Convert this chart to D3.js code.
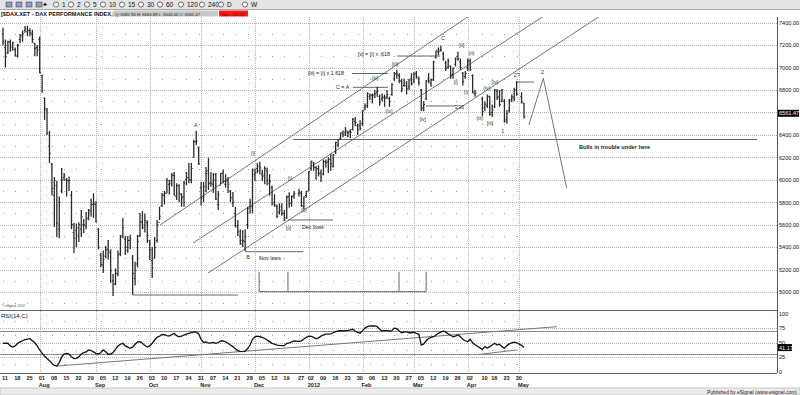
<!DOCTYPE html>
<html>
<head>
<meta charset="utf-8">
<script src="https://cdn.jsdelivr.net/npm/d3@7"></script>
<style>
  body { margin: 0; background: #fff; }
  svg text { font-family: "Liberation Sans", Arial, sans-serif; }
</style>
</head>
<body>
<div id="graf"></div>
<script>
// ---- Datos ----
const startDay = "2011-07-11";
const endDay = "2012-05-03";
const holidays = ["2011-12-26", "2012-04-06", "2012-04-09", "2012-05-01"];

// OHLC diario (jul 2011 - may 2012)
const opens = [
  7300,7180,7130,7230,7180,7160,7100,7250,7280,7330,7320,7330,7300,7220,7180,
  7250,6930,6730,6620,6300,6140,5860,5950,5560,5900,6020,6000,5990,5860,5530,5550,5500,5560,5600,5590,5660,5720,5780,
  5780,5560,5330,5240,5320,5380,5350,5100,5070,5160,5340,5500,5470,5400,5460,5300,5120,5250,5500,5620,5600,5620,
  5460,5280,5300,5460,5620,5770,5860,5880,5960,5990,6040,5850,5950,5870,5850,6000,6020,6000,6200,6340,6290,
  5930,5850,5900,6080,5970,5960,6050,5780,5950,6060,5960,5990,5900,5790,5700,5590,5500,5460,5450,5600,5760,5760,
  6050,6100,6120,6050,6040,6080,5970,5930,5800,5760,5710,5760,5700,5660,5850,5790,5860,5880,5880,5760,5860,
  5900,6100,6150,6110,6100,6060,6050,6160,6160,6180,6120,6250,6310,6370,6420,6420,6420,6430,6450,6520,6480,6480,
  6500,6640,6660,6740,6750,6760,6780,6740,6720,6730,6740,6720,6760,6900,6940,6930,6880,6840,6840,6830,6900,
  6890,6950,6900,6800,6640,6720,6900,6860,6890,7090,7140,7160,7120,7040,7000,7010,6940,7030,7100,7050,6950,6920,
  7000,7060,6930,6770,6720,6640,6660,6740,6600,6650,6790,6740,6700,6700,6540,6620,6720,6730,6800,
  6740,6683
];
const highs = [
  7355,7250,7240,7250,7230,7180,7210,7300,7330,7370,7373,7350,7337,7220,7200,
  7277,6936,6730,6640,6436,6150,6025,5990,5850,6106,6060,6017,6030,5900,5615,5610,5620,5731,5650,5714,5740,5830,5880,
  5810,5570,5350,5370,5410,5464,5380,5160,5210,5370,5510,5660,5500,5500,5510,5330,5270,5508,5705,5720,5700,5640,
  5464,5400,5490,5642,5760,5883,5900,6017,6000,6060,6070,5970,5960,5880,5990,6070,6150,6150,6356,6436,6293,
  5981,5981,6115,6195,6070,6060,6060,5900,6060,6090,6050,6025,5910,5892,5758,5642,5560,5550,5560,5758,5830,6100,
  6100,6150,6160,6090,6120,6110,6050,5950,5870,5780,5790,5790,5730,5860,5890,5860,5900,5920,5900,5850,5900,
  6080,6170,6160,6120,6130,6090,6180,6180,6200,6230,6230,6340,6360,6420,6440,6470,6440,6450,6550,6560,6500,6530,
  6620,6680,6780,6770,6770,6800,6830,6760,6770,6760,6800,6740,6860,6960,6980,6950,6900,6900,6880,6900,6950,
  6960,6970,6920,6810,6700,6890,6950,6900,7060,7150,7180,7194,7140,7060,7080,7020,7000,7090,7140,7080,6960,6970,
  7080,7080,6940,6800,6740,6700,6760,6750,6670,6810,6810,6800,6810,6720,6620,6720,6760,6820,6880,
  6780,6685
];
const lows = [
  7200,7000,7120,7140,7150,7100,7090,7220,7230,7310,7280,7280,7220,7100,7100,
  6950,6775,6534,6400,6150,5860,5580,5490,5480,5880,5990,5850,5900,5560,5348,5400,5446,5490,5526,5560,5640,5670,5660,
  5620,5380,5220,5170,5300,5290,5080,4964,5060,5140,5320,5480,5330,5350,5380,4975,5060,5220,5490,5560,5530,5440,
  5285,5125,5300,5440,5640,5758,5780,5880,5870,5940,5860,5820,5800,5760,5760,5950,5970,5970,6200,6311,6133,
  5770,5800,5890,5910,5937,5883,5821,5730,5960,5970,5930,5883,5800,5758,5580,5500,5420,5400,5366,5560,5700,5700,
  5990,6060,6050,5990,5960,5950,5860,5770,5760,5660,5690,5680,5630,5650,5750,5760,5830,5850,5760,5740,5840,
  5900,6080,6080,6000,6030,5980,6040,6110,6060,6080,6110,6230,6290,6360,6380,6390,6380,6370,6440,6480,6400,6440,
  6480,6620,6640,6710,6680,6730,6740,6660,6700,6650,6720,6650,6750,6880,6900,6860,6780,6830,6760,6800,6840,
  6860,6900,6840,6610,6610,6710,6860,6830,6880,7080,7110,7140,7060,6970,6990,6900,6900,7010,7060,6980,6840,6900,
  6970,6970,6770,6740,6570,6610,6640,6570,6560,6640,6710,6650,6690,6510,6500,6600,6690,6700,6750,
  6680,6546
];
const closes = [
  7230,7097,7227,7198,7220,7110,7200,7290,7300,7344,7330,7310,7250,7170,7158,
  6954,6797,6637,6414,6236,5923,5994,5613,5798,5997,6035,5994,5995,5602,5481,5572,5600,5670,5600,5650,5728,5780,5784,
  5627,5400,5246,5289,5376,5364,5190,5072,5166,5331,5490,5573,5371,5459,5474,5164,5196,5449,5628,5578,5639,5502,
  5376,5216,5395,5600,5675,5866,5880,5995,5965,6040,5859,5946,5880,5840,5970,6020,6000,6100,6340,6346,6141,
  5834,5939,6056,5966,5970,6000,5829,5868,6057,5985,5995,5960,5840,5800,5578,5537,5428,5457,5492,5746,5800,6088,
  6062,6080,6106,6028,6100,5995,5986,5785,5774,5675,5730,5701,5640,5847,5790,5850,5878,5889,5771,5848,5898,
  6075,6166,6111,6095,6057,6017,6163,6152,6179,6143,6220,6332,6354,6416,6404,6436,6419,6421,6539,6511,6444,6458,
  6616,6655,6766,6754,6748,6767,6787,6692,6738,6728,6760,6699,6849,6947,6943,6884,6810,6864,6810,6888,6856,
  6941,6921,6866,6633,6671,6880,6880,6895,7050,7154,7144,7158,7079,6996,7056,6930,6996,7078,7079,6999,6875,6947,
  7056,6983,6784,6775,6606,6674,6743,6583,6624,6801,6733,6671,6801,6523,6590,6704,6739,6801,6761,
  6694,6561.47
];
// RSI(14,C)
const rsi = [
  48.6,49,48.6,44,42,44,48.6,51,53,55,56,56.6,53,49.5,44,
  37,31,26.5,22,18.4,13.7,10,9,15,25,30,31,30,25,22,22.5,25,30,32.5,33.6,37,36,33.6,
  31,30,32.5,37,34,29.5,30,32.5,38,44,47,48.6,44,42,40,42,47,51,51.5,48.6,44.6,42,
  44,48.6,54.3,59,61,64,63.5,62,61,63.5,66,62,60,61,63,64.7,66,67,68,68,65,
  55.5,50,51,49,49.5,50,48.6,50,52.6,52.6,51,48.6,45.6,42.8,39,36,34.5,34,35,39.5,45.6,55.5,
  60,61,60,59,57,54.3,51.5,48.6,47,45.6,45,44.5,44.5,48.6,49.5,51,52.6,52,53,56,59,
  61,60.5,59,56.5,58,61,63,64.7,64.7,65,67,69,70,70.6,70,70.6,71,71.8,73,70,67.6,66,
  70.6,75,77.5,78.7,78.7,78.7,77.5,73,70,70.6,70.6,70,70.6,75,74,70,67,68,69,67,67,
  68,66,64.3,45.6,47.5,53,57,59,60,63,66,68,70,68,65,62.6,60,61,63.5,60,55.5,53,
  51.5,55.5,49.5,46,38,42.8,40.5,42.8,45.6,48.6,45.6,47,42.8,40,44.6,47.5,49.5,50.7,49.5,
  45,41.17
];

const priceTicks = [5000,5200,5400,5600,5800,6000,6200,6400,6600,6800,7000,7200,7400];
const priceMinor = [4900,5100,5300,5500,5700,5900,6100,6300,6500,6700,6900,7100,7300];
const rsiTicks = [0,25,50,75,100];
const rsiMinor = [12.5,37.5,62.5,87.5];
const weekStarts = ["2011-07-11","2011-07-18","2011-07-25","2011-08-01","2011-08-08","2011-08-15","2011-08-22","2011-08-29",
  "2011-09-05","2011-09-12","2011-09-19","2011-09-26","2011-10-03","2011-10-10","2011-10-17","2011-10-24","2011-10-31",
  "2011-11-07","2011-11-14","2011-11-21","2011-11-28","2011-12-05","2011-12-12","2011-12-19","2011-12-27",
  "2012-01-02","2012-01-09","2012-01-16","2012-01-23","2012-01-30","2012-02-06","2012-02-13","2012-02-20","2012-02-27",
  "2012-03-05","2012-03-12","2012-03-19","2012-03-26","2012-04-02","2012-04-10","2012-04-16","2012-04-23","2012-04-30"];
const monthStarts = ["2011-08-01","2011-09-01","2011-10-03","2011-11-01","2011-12-01","2012-01-02","2012-02-01","2012-03-01","2012-04-02","2012-05-01"];
const monthNames = ["Aug","Sep","Oct","Nov","Dec","2012","Feb","Mar","Apr","May"];

// Anotaciones (s = indice de dia habil, p = precio)
const waveLabels = [
  {s: 78.8, p: 6488, t: "A"}, {s: 100.2, p: 5312, t: "B"}, {s: 179.8, p: 7261, t: "C"},
  {s: 102.2, p: 6234, t: "[i]"}, {s: 116.7, p: 5566, t: "[ii]"}, {s: 117.3, p: 6016, t: "(i)"},
  {s: 123, p: 5731, t: "(ii)"}, {s: 152.1, p: 6904, t: "(iii)"}, {s: 157.9, p: 6613, t: "(iv)"},
  {s: 160.3, p: 7029, t: "[iii]"}, {s: 171.6, p: 6539, t: "[iv]"}, {s: 185.1, p: 6869, t: "[i]"},
  {s: 187.5, p: 7201, t: "[ii]"}, {s: 189.3, p: 6785, t: "(i)"}, {s: 191.6, p: 7127, t: "(ii)"},
  {s: 195, p: 6551, t: "(iii)"}, {s: 197.8, p: 6818, t: "(iv)"}, {s: 199.1, p: 6506, t: "[iii]"},
  {s: 201.1, p: 6874, t: "[iv]"}, {s: 204.3, p: 6429, t: "1"}, {s: 210, p: 6934, t: "2?"},
  {s: 220.5, p: 6963, t: "2"}
];
const noteLabels = [
  {s: 104.7, p: 5303, t: "Nov lows"}, {s: 122.2, p: 5579, t: "Dec lows"},
  {s: 124.7, p: 6952, t: "[iii] = [i] x 1.618"}, {s: 136.1, p: 6827, t: "C = A"},
  {s: 145.1, p: 7117, t: "[v] = [i] x .618"}, {s: 184.8, p: 6649, t: "236"}
];
const levelLines = [
  [[53.1, 4973], [96.1, 4973]], [[98.9, 5359], [122.7, 5359]], [[116.5, 5642], [134.9, 5642]],
  [[142.7, 6947], [157.4, 6947]], [[143.1, 6824], [157.4, 6824]], [[161.1, 7103], [178.7, 7103]],
  [[172.9, 6658], [185.2, 6658]], [[209.7, 6871], [217.1, 6871]], [[118.6, 6359], [308.3, 6359]],
  [[104.7, 5003], [173, 5003]],
  [[104.7, 5181], [104.7, 5003]], [[116.5, 5181], [116.5, 5003]], [[161.9, 5181], [161.9, 5003]], [[173, 5181], [173, 5003]]
];
const channels = [
  [[64.2, 5597], [190.5, 7460]],
  [[77.7, 5437], [221.2, 7460]],
  [[83.8, 5169], [244.1, 7460]]
];
const projection = [[215, 6488], [220.9, 6904], [230.5, 5924]];
const rsiLines = [[[22, 9], [226.4, 77.5]], [[194.3, 29.1], [209.9, 36.9]]];

// ---- Dimensiones ----
const W = 800, H = 395;
const right = 777;
const mainTop = 17, mainBottom = 310, rsiBottom = 373;

const svg = d3.select("#graf").append("svg")
  .attr("width", W).attr("height", H)
  .style("display", "block");

// calendario de dias habiles
const parse = d3.timeParse("%Y-%m-%d");
const fmt = d3.timeFormat("%Y-%m-%d");
const weekdays = d3.timeDays(parse(startDay), d3.timeDay.offset(parse(endDay), 1))
  .filter(d => d.getDay() % 6 !== 0);
const slotOf = new Map(weekdays.map((d, i) => [fmt(d), i]));
const days = weekdays.filter(d => !holidays.includes(fmt(d)));

const data = days.map((d, i) => ({
  s: slotOf.get(fmt(d)), open: opens[i], high: highs[i], low: lows[i], close: closes[i], rsi: rsi[i]
}));

const x = d3.scaleLinear().domain([0, weekdays.length - 1]).range([3, 524]);
const y = d3.scaleLinear().domain([5000, 7400]).range([292, 22.7]);
const yR = d3.scaleLinear().domain([0, 100]).range([371.25, 313.75]);

// ---- barras de herramientas ----
svg.append("rect").attr("x", 0).attr("y", 0).attr("width", W).attr("height", 9).attr("fill", "#e4e4e4");
const tools = ["1","2","5","10","15","30","60","120","240","D","W"];
const toolX = [62,77,93,109,128,147,166,187,208,227,251];
tools.forEach((t, i) => {
  svg.append("circle").attr("cx", toolX[i] - 6).attr("cy", 4.5).attr("r", 2.6)
    .attr("fill", "#fff").attr("stroke", "#333").attr("stroke-width", 0.7);
  svg.append("text").attr("x", toolX[i]).attr("y", 7).attr("font-size", 6.5).attr("fill", "#111").text(t);
});
[6, 16, 26, 36].forEach(px => svg.append("rect").attr("x", px).attr("y", 2).attr("width", 6).attr("height", 5)
  .attr("fill", "#8aa0c0").attr("stroke", "#333").attr("stroke-width", 0.5));
svg.append("text").attr("x", 42).attr("y", 7).attr("font-size", 7).attr("fill", "#111").text("\u2726");

svg.append("line").attr("x1", 0).attr("x2", W).attr("y1", 9.5).attr("y2", 9.5).attr("stroke", "#aaa");
svg.append("text").attr("x", 1).attr("y", 15.5).attr("font-size", 5.6).attr("font-weight", "bold").attr("fill", "#111")
  .text("[$DAX.XET - DAX PERFORMANCE INDEX,D]");
svg.append("rect").attr("x", 113).attr("y", 10.5).attr("width", 105).attr("height", 6).attr("fill", "#c8c8c8");
svg.append("text").attr("x", 115).attr("y", 15.5).attr("font-size", 4.2).attr("fill", "#222")
  .text("O: 6682.96   H: 6684.89   L: 6546.00   C: 6561.47");
svg.append("rect").attr("x", 219).attr("y", 10.5).attr("width", 29).attr("height", 6).attr("fill", "#ff1a1a");
svg.append("text").attr("x", 222).attr("y", 15.5).attr("font-size", 4.2).attr("fill", "#600").text("Net: -132.57");

// ---- rejilla ----
const grid = svg.append("g");
grid.selectAll("line.h").data(priceTicks).join("line")
  .attr("x1", 0).attr("x2", right).attr("y1", d => Math.round(y(d)) + 0.5).attr("y2", d => Math.round(y(d)) + 0.5)
  .attr("stroke", "#b4b4b4").attr("stroke-dasharray", "1,1");
grid.selectAll("line.r").data([25, 50, 75]).join("line")
  .attr("x1", 0).attr("x2", right).attr("y1", d => Math.round(yR(d)) + 0.5).attr("y2", d => Math.round(yR(d)) + 0.5)
  .attr("stroke", "#b4b4b4").attr("stroke-dasharray", "1,1");
grid.selectAll("line.v").data(monthStarts).join("line")
  .attr("x1", d => Math.round(x(slotOf.get(d))) + 0.5).attr("x2", d => Math.round(x(slotOf.get(d))) + 0.5)
  .attr("y1", mainTop).attr("y2", rsiBottom)
  .attr("stroke", "#b4b4b4").attr("stroke-dasharray", "1,1");

// rejilla menor de puntos (semanas x niveles intermedios)
const dotRows = priceMinor.map(y).concat(rsiMinor.map(yR));
const dots = [];
weekStarts.filter(d => !monthStarts.includes(d)).forEach(d => dotRows.forEach(r => dots.push([x(slotOf.get(d)), r])));
grid.selectAll("rect.dot").data(dots).join("rect")
  .attr("x", d => Math.round(d[0])).attr("y", d => Math.round(d[1]))
  .attr("width", 1).attr("height", 1).attr("fill", "#9a9a9a");

// niveles RSI 70 / 30
svg.selectAll("line.lvl").data([70, 30]).join("line")
  .attr("x1", 0).attr("x2", right).attr("y1", d => Math.round(yR(d)) + 0.5).attr("y2", d => Math.round(yR(d)) + 0.5)
  .attr("stroke", "#8a8a8a").attr("stroke-width", 1);

// marcos
svg.append("line").attr("x1", right + 0.5).attr("x2", right + 0.5).attr("y1", mainTop).attr("y2", rsiBottom).attr("stroke", "#555");
[mainBottom, rsiBottom].forEach(v => svg.append("line").attr("x1", 0).attr("x2", right).attr("y1", v + 0.5).attr("y2", v + 0.5)
  .attr("stroke", "#666"));

// ---- panel principal ----
svg.append("clipPath").attr("id", "clipMain").append("rect")
  .attr("x", 0).attr("y", mainTop).attr("width", right).attr("height", mainBottom - mainTop);
const gMain = svg.append("g").attr("clip-path", "url(#clipMain)");

const lineGen = d3.line().x(d => x(d[0])).y(d => y(d[1]));

gMain.selectAll("path.chan").data(channels).join("path")
  .attr("d", lineGen).attr("fill", "none").attr("stroke", "#666").attr("stroke-width", 0.9);
gMain.selectAll("path.lvl").data(levelLines).join("path")
  .attr("d", lineGen).attr("fill", "none").attr("stroke", "#666").attr("stroke-width", 1);
gMain.append("path").datum(projection).attr("d", lineGen)
  .attr("fill", "none").attr("stroke", "#777").attr("stroke-width", 1);

const bar = gMain.selectAll("g.bar").data(data).join("g")
  .attr("transform", d => `translate(${x(d.s)},0)`);
bar.append("line").attr("y1", d => y(d.high)).attr("y2", d => y(d.low))
  .attr("stroke", "#2a2a2a").attr("stroke-width", 1.3);
bar.append("line").attr("x1", -1.3).attr("x2", 0).attr("y1", d => y(d.open)).attr("y2", d => y(d.open))
  .attr("stroke", "#2a2a2a").attr("stroke-width", 1);
bar.append("line").attr("x1", 0).attr("x2", 1.3).attr("y1", d => y(d.close)).attr("y2", d => y(d.close))
  .attr("stroke", "#2a2a2a").attr("stroke-width", 1);

gMain.selectAll("text.wave").data(waveLabels).join("text")
  .attr("x", d => x(d.s)).attr("y", d => y(d.p)).attr("dy", "0.35em")
  .attr("text-anchor", "middle").attr("font-size", 5.2).attr("fill", "#333").text(d => d.t);
gMain.selectAll("text.note").data(noteLabels).join("text")
  .attr("x", d => x(d.s)).attr("y", d => y(d.p)).attr("dy", "0.35em")
  .attr("font-size", 5.4).attr("fill", "#222").text(d => d.t);
gMain.append("text").attr("x", x(235.5)).attr("y", y(6288)).attr("dy", "0.35em")
  .attr("font-size", 5.6).attr("font-weight", "bold").attr("fill", "#222").text("Bulls in trouble under here");

svg.append("text").attr("x", 2).attr("y", 307).attr("font-size", 3.2).attr("fill", "#444").text("\u00a9 eSignal, 2012");

// eje de precios
const yAxis = svg.append("g").attr("transform", `translate(${right + 2},0)`)
  .call(d3.axisRight(y).tickValues(priceTicks).tickFormat(d3.format(".2f")).tickSize(0));
yAxis.select(".domain").remove();
yAxis.selectAll("text").attr("x", 0).attr("font-size", 5.6).attr("fill", "#111")
  .attr("font-family", "Liberation Sans, Arial, sans-serif");

const last = data[data.length - 1];
svg.append("rect").attr("x", right + 1).attr("y", y(last.close) - 7).attr("width", 21).attr("height", 7).attr("fill", "#000");
svg.append("text").attr("x", right + 2).attr("y", y(last.close) - 1.5).attr("font-size", 5.6).attr("fill", "#fff")
  .text(d3.format(".2f")(last.close));

// ---- panel RSI ----
svg.append("text").attr("x", 1).attr("y", 317.5).attr("font-size", 6).attr("fill", "#111").text("RSI(14,C)");
svg.append("clipPath").attr("id", "clipRsi").append("rect")
  .attr("x", 0).attr("y", mainBottom).attr("width", right).attr("height", rsiBottom - mainBottom);
const gRsi = svg.append("g").attr("clip-path", "url(#clipRsi)");
const rsiLineGen = d3.line().x(d => x(d[0])).y(d => yR(d[1]));
gRsi.selectAll("path.tl").data(rsiLines).join("path")
  .attr("d", rsiLineGen).attr("fill", "none").attr("stroke", "#777").attr("stroke-width", 1);
gRsi.append("path").datum(data).attr("fill", "none").attr("stroke", "#111").attr("stroke-width", 1.3)
  .attr("d", d3.line().x(d => x(d.s)).y(d => yR(d.rsi)));

const rAxis = svg.append("g").attr("transform", `translate(${right + 2},0)`)
  .call(d3.axisRight(yR).tickValues(rsiTicks).tickFormat(d3.format("d")).tickSize(0));
rAxis.select(".domain").remove();
rAxis.selectAll("text").attr("x", 0).attr("font-size", 5.6).attr("fill", "#111")
  .attr("font-family", "Liberation Sans, Arial, sans-serif");
svg.append("rect").attr("x", right + 1).attr("y", yR(last.rsi) - 3.5).attr("width", 14).attr("height", 7).attr("fill", "#000");
svg.append("text").attr("x", right + 2).attr("y", yR(last.rsi) + 2).attr("font-size", 5.6).attr("fill", "#fff")
  .text(d3.format(".2f")(last.rsi));

// ---- eje de fechas ----
const dayFmt = d3.timeFormat("%d");
svg.selectAll("text.day").data(weekStarts).join("text")
  .attr("x", d => x(slotOf.get(d)) - 1).attr("y", 379.5)
  .attr("font-size", 5.6).attr("font-weight", "bold").attr("fill", "#222").text(d => dayFmt(parse(d)));
svg.selectAll("text.mon").data(monthStarts).join("text")
  .attr("x", (d, i) => x(slotOf.get(d)) - 1).attr("y", 386.5)
  .attr("font-size", 5.6).attr("font-weight", "bold").attr("fill", "#222").text((d, i) => monthNames[i]);

// barra de estado
svg.append("rect").attr("x", 0).attr("y", 388).attr("width", W).attr("height", 7)
  .attr("fill", "#ececec").attr("stroke", "#999").attr("stroke-width", 0.5);
svg.append("text").attr("x", 797).attr("y", 393.5).attr("text-anchor", "end").attr("font-size", 5)
  .attr("fill", "#222").text("Published by eSignal (www.esignal.com)");
</script>
</body>
</html>
